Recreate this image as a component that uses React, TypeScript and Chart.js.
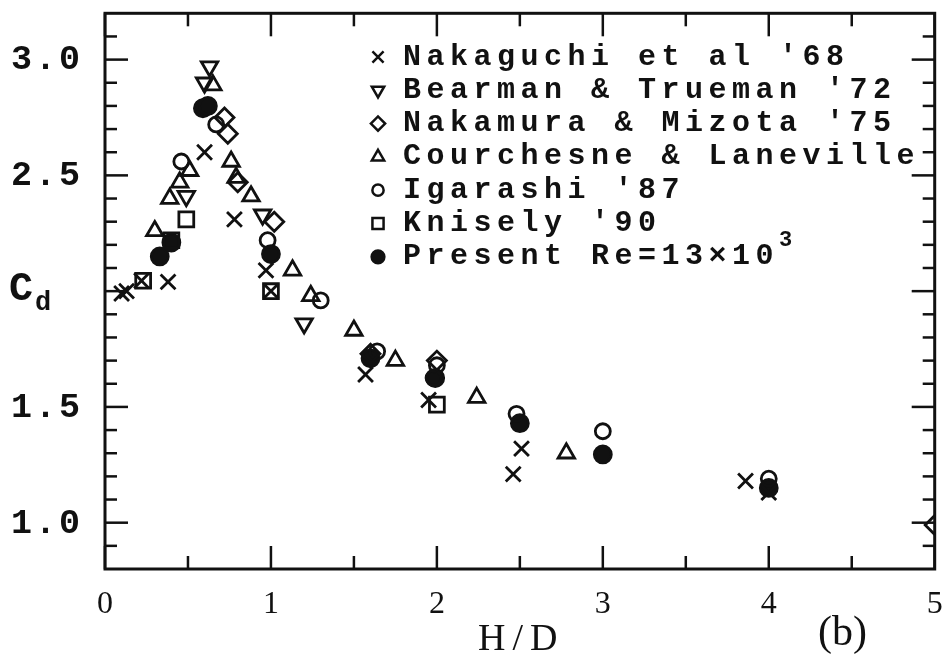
import React, { useEffect, useRef } from 'react';
import { Chart, registerables } from 'chart.js';
import { drawPoint } from 'chart.js/helpers';

Chart.register(...registerables);

const INK = '#111111';

// Legend entries, one per data source
const seriesNames = [
  "Nakaguchi et al '68",
  "Bearman & Trueman '72",
  "Nakamura & Mizota '75",
  'Courchesne & Laneville',
  "Igarashi '87",
  "Knisely '90",
  'Present Re=13×10³',
];

// H/D and drag coefficient Cd for each source
const nakaguchiHD = [0.10, 0.13, 0.22, 0.38, 0.60, 0.78, 0.97, 1.00, 1.57, 1.95, 2.46, 2.51, 3.86, 4.00];
const nakaguchiCd = [1.99, 2.00, 2.045, 2.04, 2.60, 2.31, 2.09, 2.00, 1.64, 1.53, 1.21, 1.32, 1.18, 1.13];

const bearmanHD = [0.63, 0.60, 0.49, 0.95, 1.20];
const bearmanCd = [2.97, 2.90, 2.41, 2.33, 1.86];

const nakamuraHD = [0.72, 0.74, 0.80, 1.02, 1.60, 2.00, 5.00];
const nakamuraCd = [2.75, 2.68, 2.47, 2.30, 1.73, 1.70, 0.99];

const courchesneHD = [0.30, 0.39, 0.45, 0.51, 0.65, 0.76, 0.79, 0.88, 1.13, 1.24, 1.50, 1.75, 2.24, 2.78];
const courchesneCd = [2.26, 2.40, 2.47, 2.52, 2.89, 2.56, 2.49, 2.41, 2.09, 1.98, 1.83, 1.70, 1.54, 1.30];

const igarashiHD = [0.46, 0.67, 0.98, 1.30, 1.64, 2.00, 1.98, 2.48, 3.00, 4.00];
const igarashiCd = [2.56, 2.72, 2.22, 1.96, 1.74, 1.68, 1.625, 1.47, 1.395, 1.19];

const kniselyHD = [0.23, 0.40, 0.49, 1.00, 2.00];
const kniselyCd = [2.045, 2.22, 2.31, 2.00, 1.51];

const presentHD = [0.33, 0.40, 0.59, 0.62, 1.00, 1.60, 1.99, 2.50, 3.00, 4.00];
const presentCd = [2.15, 2.21, 2.79, 2.80, 2.16, 1.71, 1.625, 1.43, 1.295, 1.15];

const seriesHD = [nakaguchiHD, bearmanHD, nakamuraHD, courchesneHD, igarashiHD, kniselyHD, presentHD];
const seriesCd = [nakaguchiCd, bearmanCd, nakamuraCd, courchesneCd, igarashiCd, kniselyCd, presentCd];

// Axis ticks
const xMajorTicks = [0, 1, 2, 3, 4, 5];
const xMinorTicks = [0.5, 1.5, 2.5, 3.5, 4.5];
const yMajorTicks = [1.0, 1.5, 2.0, 2.5, 3.0];
const yMinorTicks = [0.9, 1.1, 1.2, 1.3, 1.4, 1.6, 1.7, 1.8, 1.9, 2.1, 2.2, 2.3, 2.4, 2.6, 2.7, 2.8, 2.9, 3.1];
const yLabelValues = [1.0, 1.5, 2.5, 3.0];
const yTickLabels = ['1.0', '1.5', '2.5', '3.0'];

// Marker look for each source
const markers = [
  { pointStyle: 'crossRot', radius: 10.5, rotation: 0, filled: false },
  { pointStyle: 'triangle', radius: 9.5, rotation: 180, filled: false },
  { pointStyle: 'rectRot', radius: 9.5, rotation: 0, filled: false },
  { pointStyle: 'triangle', radius: 9.5, rotation: 0, filled: false },
  { pointStyle: 'circle', radius: 7.5, rotation: 0, filled: false },
  { pointStyle: 'rect', radius: 10.5, rotation: 0, filled: false },
  { pointStyle: 'circle', radius: 8.5, rotation: 0, filled: true },
];

const MONO = '"Liberation Mono", "DejaVu Sans Mono", monospace';
const SERIF = '"Liberation Serif", "DejaVu Serif", serif';

const framePlugin = {
  id: 'figureFrame',
  afterDraw(chart: any) {
    const { ctx, chartArea: a } = chart;
    const xs = chart.scales.x;
    const ys = chart.scales.y;
    ctx.save();
    ctx.strokeStyle = INK;
    ctx.lineCap = 'butt';
    const seg = (x1: number, y1: number, x2: number, y2: number) => {
      ctx.beginPath();
      ctx.moveTo(x1, y1);
      ctx.lineTo(x2, y2);
      ctx.stroke();
    };

    // inward ticks on all four sides
    ctx.lineWidth = 2.5;
    xMajorTicks.forEach((v) => {
      const p = xs.getPixelForValue(v);
      seg(p, a.bottom, p, a.bottom - 23);
      seg(p, a.top, p, a.top + 23);
    });
    xMinorTicks.forEach((v) => {
      const p = xs.getPixelForValue(v);
      seg(p, a.bottom, p, a.bottom - 13);
      seg(p, a.top, p, a.top + 13);
    });
    yMajorTicks.forEach((v) => {
      const p = ys.getPixelForValue(v);
      seg(a.left, p, a.left + 23, p);
      seg(a.right, p, a.right - 23, p);
    });
    yMinorTicks.forEach((v) => {
      const p = ys.getPixelForValue(v);
      seg(a.left, p, a.left + 12, p);
      seg(a.right, p, a.right - 12, p);
    });

    ctx.lineWidth = 3;
    ctx.strokeRect(a.left, a.top, a.right - a.left, a.bottom - a.top);

    // y tick labels
    ctx.fillStyle = INK;
    ctx.textBaseline = 'middle';
    ctx.textAlign = 'right';
    ctx.font = `bold 35px ${MONO}`;
    ctx.letterSpacing = '3px';
    yLabelValues.forEach((v, i) => {
      ctx.fillText(yTickLabels[i], a.left - 22, ys.getPixelForValue(v) + 1);
    });

    // axis symbols
    ctx.textAlign = 'left';
    ctx.letterSpacing = '0px';
    const y2 = ys.getPixelForValue(2.0);
    ctx.font = `bold 40px ${MONO}`;
    ctx.fillText('C', 9, y2 - 1);
    ctx.font = `bold 27px ${MONO}`;
    ctx.fillText('d', 35, y2 + 12);

    ctx.font = `38px ${SERIF}`;
    ctx.letterSpacing = '7px';
    ctx.fillText('H/D', 478, 640);

    ctx.letterSpacing = '0px';
    ctx.font = `42px ${SERIF}`;
    ctx.fillText('(b)', 818, 634);

    // legend
    const markX = 378;
    const textX = 403;
    const rowY0 = 57;
    const rowDY = 33.3;
    seriesNames.forEach((name, i) => {
      const y = rowY0 + i * rowDY;
      const m = markers[i];
      ctx.save();
      ctx.strokeStyle = INK;
      ctx.fillStyle = m.filled ? INK : 'rgba(0,0,0,0)';
      ctx.lineWidth = 2.5;
      drawPoint(ctx, {
        pointStyle: m.pointStyle as any,
        rotation: m.rotation,
        radius: m.radius * 0.75,
        borderWidth: 2.5,
      }, markX, y);
      ctx.restore();

      ctx.fillStyle = INK;
      ctx.textAlign = 'left';
      ctx.textBaseline = 'middle';
      ctx.font = `bold 30px ${MONO}`;
      ctx.letterSpacing = '5.5px';
      const parts = name.split('³');
      ctx.fillText(parts[0], textX, y);
      if (parts.length > 1) {
        const w = ctx.measureText(parts[0]).width;
        ctx.font = `bold 22px ${MONO}`;
        ctx.letterSpacing = '0px';
        ctx.fillText('3', textX + w, y - 16);
      }
    });
    ctx.restore();
  },
};

export default function App() {
  const canvasRef = useRef<HTMLCanvasElement>(null);

  useEffect(() => {
    const canvas = canvasRef.current;
    if (!canvas) return;
    const datasets = seriesNames.map((name, i) => {
      const m = markers[i];
      return {
        label: name,
        data: seriesHD[i].map((x, j) => ({ x, y: seriesCd[i][j] })),
        showLine: false,
        pointStyle: m.pointStyle as any,
        pointRadius: m.radius,
        pointRotation: m.rotation,
        pointBorderWidth: 2.8,
        pointBorderColor: INK,
        pointBackgroundColor: m.filled ? INK : 'rgba(0,0,0,0)',
        clip: 0,
      };
    });

    const chart = new Chart(canvas, {
      type: 'scatter',
      data: { datasets },
      options: {
        responsive: false,
        animation: false,
        events: [],
        layout: { padding: { top: 10, right: 11, bottom: 0, left: 0 } },
        plugins: {
          legend: { display: false },
          tooltip: { enabled: false },
        },
        scales: {
          x: {
            type: 'linear',
            min: 0,
            max: 5,
            grid: { display: false, drawTicks: false },
            border: { display: false },
            ticks: {
              stepSize: 1,
              color: INK,
              padding: 16,
              font: { family: SERIF, size: 32 },
            },
            afterFit: (s: any) => {
              s.height = 100;
              s.paddingLeft = 0;
              s.paddingRight = 0;
            },
          },
          y: {
            type: 'linear',
            min: 0.8,
            max: 3.2,
            grid: { display: false, drawTicks: false },
            border: { display: false },
            ticks: { display: false },
            afterFit: (s: any) => {
              s.width = 105;
              s.paddingTop = 0;
              s.paddingBottom = 0;
            },
          },
        },
      },
      plugins: [framePlugin],
    });
    return () => chart.destroy();
  }, []);

  return (
    <div style={{ position: 'absolute', left: 0, top: 0, width: 948, height: 669, background: '#ffffff' }}>
      <canvas ref={canvasRef} width={948} height={669} style={{ display: 'block' }} />
    </div>
  );
}
